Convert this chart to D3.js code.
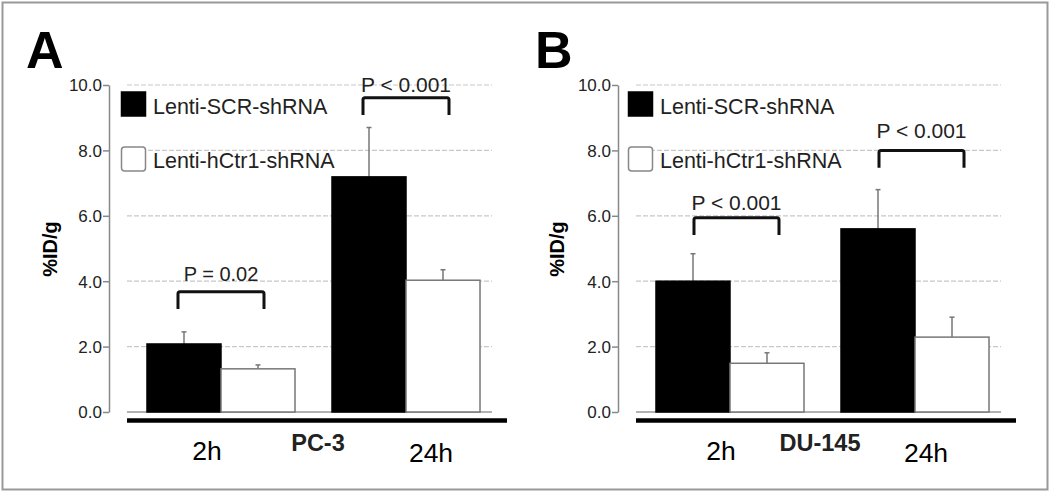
<!DOCTYPE html>
<html>
<head>
<meta charset="utf-8">
<script src="https://cdn.jsdelivr.net/npm/d3@7"></script>
<style>
  body { margin: 0; background: #fff; }
  svg { display: block; font-family: "Liberation Sans", Arial, sans-serif; }
</style>
</head>
<body>
<svg id="chart" width="1050" height="492"></svg>
<script>
// data
var groups = ["2h", "24h"];
var series = ["Lenti-SCR-shRNA", "Lenti-hCtr1-shRNA"];
var yTicks = [0, 2, 4, 6, 8, 10];

var pc3Means = [[2.08, 1.32], [7.19, 4.03]];
var pc3Errors = [[0.37, 0.12], [1.51, 0.32]];
var pc3Pvals = ["P = 0.02", "P < 0.001"];
var pc3BracketY = [3.68, 9.61];

var du145Means = [[4.0, 1.49], [5.6, 2.29]];
var du145Errors = [[0.84, 0.32], [1.2, 0.61]];
var du145Pvals = ["P < 0.001", "P < 0.001"];
var du145BracketY = [5.94, 8.0];

var svg = d3.select("#chart");

svg.append("rect")
  .attr("x", 2.5).attr("y", 2.5)
  .attr("width", 1045).attr("height", 487)
  .attr("fill", "none").attr("stroke", "#999").attr("stroke-width", 2);

function drawPanel(p) {
  var g = svg.append("g").attr("transform", `translate(${p.dx},0)`);

  var y = d3.scaleLinear().domain([0, 10]).range([412, 85]);
  var x = d3.scaleBand().domain(groups).range([137, 490]).paddingInner(0.2).paddingOuter(0.054);
  var xs = d3.scaleBand().domain(series).range([0, x.bandwidth()]);

  // panel letter
  g.append("text").attr("x", 26).attr("y", 68)
    .attr("font-size", 52).attr("font-weight", "bold").text(p.letter);

  // grid
  g.selectAll(".grid").data(yTicks.filter(d => d > 0)).join("line")
    .attr("class", "grid")
    .attr("x1", 127).attr("x2", 492)
    .attr("y1", d => y(d)).attr("y2", d => y(d))
    .attr("stroke", "#c8c8c8").attr("stroke-width", 1.2)
    .attr("stroke-dasharray", "5,2");
  g.append("line").attr("x1", 127).attr("x2", 492)
    .attr("y1", y(0)).attr("y2", y(0))
    .attr("stroke", "#999").attr("stroke-width", 1.5);

  // y axis
  var ax = g.append("g").attr("transform", "translate(109,0)")
    .call(d3.axisLeft(y).tickValues(yTicks).tickFormat(d3.format(".1f")).tickSize(6).tickSizeOuter(0));
  ax.select(".domain").attr("stroke", "#888").attr("stroke-width", 1.5);
  ax.selectAll(".tick line").attr("stroke", "#888").attr("stroke-width", 1.5);
  ax.selectAll(".tick text").attr("fill", "#222").attr("font-size", 17)
    .attr("font-family", "Liberation Sans, Arial, sans-serif").attr("dy", "0.35em").attr("x", -7);

  // y title
  g.append("text")
    .attr("transform", `translate(${p.titleX},249) rotate(-90)`)
    .attr("text-anchor", "middle").attr("font-weight", "bold").attr("font-size", 20)
    .text("%ID/g");

  // bars
  var rows = [];
  groups.forEach(function (gr, i) {
    series.forEach(function (s, j) {
      rows.push({ group: gr, series: s, j: j, v: p.means[i][j], e: p.errors[i][j] });
    });
  });

  g.selectAll(".err").data(rows).join("line")
    .attr("class", "err")
    .attr("x1", d => x(d.group) + xs(d.series) + xs.bandwidth() / 2)
    .attr("x2", d => x(d.group) + xs(d.series) + xs.bandwidth() / 2)
    .attr("y1", d => y(d.v)).attr("y2", d => y(d.v + d.e))
    .attr("stroke", "#777").attr("stroke-width", 1.5);
  g.selectAll(".cap").data(rows).join("line")
    .attr("class", "cap")
    .attr("x1", d => x(d.group) + xs(d.series) + xs.bandwidth() / 2 - 2.5)
    .attr("x2", d => x(d.group) + xs(d.series) + xs.bandwidth() / 2 + 2.5)
    .attr("y1", d => y(d.v + d.e)).attr("y2", d => y(d.v + d.e))
    .attr("stroke", "#777").attr("stroke-width", 1.5);

  g.selectAll(".bar").data(rows).join("rect")
    .attr("class", "bar")
    .attr("x", d => x(d.group) + xs(d.series))
    .attr("y", d => y(d.v))
    .attr("width", xs.bandwidth())
    .attr("height", d => y(0) - y(d.v))
    .attr("fill", d => d.j === 0 ? "#000" : "#fff")
    .attr("stroke", d => d.j === 0 ? "#000" : "#777")
    .attr("stroke-width", 1.5);

  // thick baseline
  g.append("line").attr("x1", 127).attr("x2", 507)
    .attr("y1", 420.5).attr("y2", 420.5)
    .attr("stroke", "#000").attr("stroke-width", 4.5);

  // significance brackets
  groups.forEach(function (gr, i) {
    var xa = x(gr) + xs(series[0]) + xs.bandwidth() / 2 + p.bl;
    var xb = x(gr) + xs(series[1]) + xs.bandwidth() / 2 + p.br;
    var yt = y(p.bracketY[i]);
    var yl = y(p.bracketY[i] - 0.53);
    g.append("path")
      .attr("d", `M${xa},${yl}V${yt + 2}Q${xa},${yt} ${xa + 2},${yt}H${xb - 2}Q${xb},${yt} ${xb},${yt + 2}V${yl}`)
      .attr("fill", "none").attr("stroke", "#111").attr("stroke-width", 3);
    g.append("text")
      .attr("x", (xa + xb) / 2).attr("y", yt - p.pGap[i])
      .attr("text-anchor", "middle").attr("font-size", p.pvals[i] === "P = 0.02" ? 20 : 21)
      .attr("fill", "#222")
      .text(p.pvals[i]);
  });

  // legend
  var lg = g.selectAll(".lg").data(series).join("g")
    .attr("class", "lg")
    .attr("transform", (d, i) => `translate(${p.legX},${92 + i * 55})`);
  lg.append("rect")
    .attr("x", 0.5).attr("y", 0)
    .attr("width", 24).attr("height", 24).attr("rx", (d, i) => i ? 3 : 0)
    .attr("fill", (d, i) => i ? "#fff" : "#000")
    .attr("stroke", (d, i) => i ? "#888" : "#000").attr("stroke-width", 1.5);
  lg.append("text")
    .attr("x", 32).attr("y", (d, i) => 22 + i * -1)
    .attr("font-size", 21.5).attr("fill", "#222")
    .text(d => d);

  // x labels
  g.selectAll(".xl").data(groups).join("text")
    .attr("class", "xl")
    .attr("x", (d, i) => x(d) + x.bandwidth() / 2 + p.xlOff[i])
    .attr("y", (d, i) => 460 + i * 1.5)
    .attr("text-anchor", "middle").attr("font-size", 26.5)
    .text(d => d);
  g.append("text")
    .attr("x", p.cellX).attr("y", 451)
    .attr("text-anchor", "middle").attr("font-size", 23.5).attr("font-weight", "bold")
    .attr("fill", "#222")
    .text(p.cell);
}

drawPanel({ dx: 0, letter: "A", cell: "PC-3", cellX: 318, titleX: 57, legX: 121,
  means: pc3Means, errors: pc3Errors, pvals: pc3Pvals, bracketY: pc3BracketY,
  bl: -6, br: 6, xlOff: [-14, 25], pGap: [11, 6] });
drawPanel({ dx: 509, letter: "B", cell: "DU-145", cellX: 311, titleX: 55, legX: 119,
  means: du145Means, errors: du145Errors, pvals: du145Pvals, bracketY: du145BracketY,
  bl: 1, br: 12, xlOff: [-9, 11], pGap: [8, 12] });
</script>
</body>
</html>
